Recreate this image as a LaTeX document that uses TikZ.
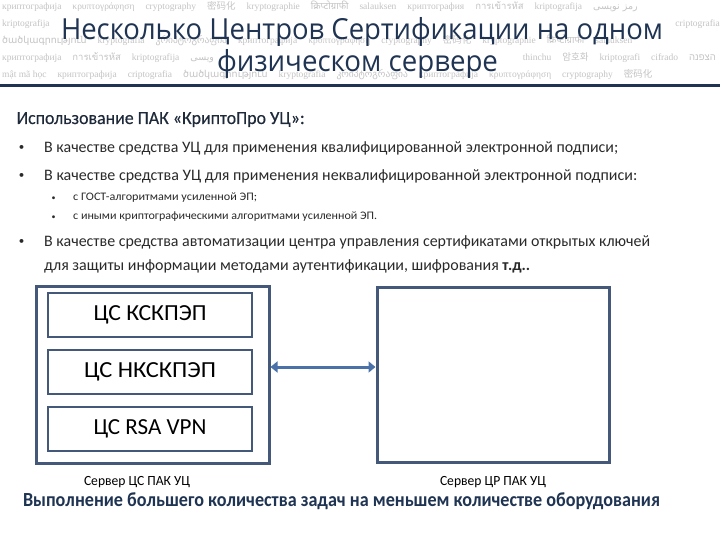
\documentclass[tikz,border=0pt]{standalone}
\usepackage{fontspec}
\usepackage{graphicx}
\usetikzlibrary{arrows.meta}
\setmainfont{Carlito}
\newfontfamily\headfont[FakeBold=0.3]{Carlito}
\newfontfamily\titlefont{Open Sans}
\newfontfamily\wmfont{Liberation Serif}
\newfontfamily\cjkfont{Noto Sans CJK SC}
\newfontfamily\kofont{Noto Sans CJK KR}
\newfontfamily\devfont[Script=Devanagari]{Noto Sans}
\newfontfamily\thaifont[Script=Thai]{Loma}
\newfontfamily\arfont[Script=Arabic]{DejaVu Sans}
\newfontfamily\dvfont{DejaVu Sans}
\newfontfamily\hefont[Script=Hebrew]{Liberation Sans}
\TeXXeTstate=1
\definecolor{titlenavy}{HTML}{1F3352}
\definecolor{headcol}{HTML}{1E2A3A}
\definecolor{bodycol}{HTML}{2A2A2A}
\definecolor{boxcol}{HTML}{44597A}
\definecolor{arrcol}{HTML}{4A72A8}
\definecolor{wmgray}{HTML}{C4C4C4}
\newlength\fitlen
\newcommand\fitto[2]{\settowidth\fitlen{#2}\scalebox{\fpeval{(#1)/\fitlen}}[1]{#2}}
\newcommand\ws{\hspace{11pt}}
\newcommand\wmAr{{\arfont\beginR رمز نویسی\endR}}
\newcommand\wmHe{{\hefont\beginR הצפנה\endR}}
\tikzset{
  wm/.style={anchor=base west, inner sep=0pt, text=wmgray, font=\wmfont\fontsize{9.5}{11}\selectfont},
  wmr/.style={wm, anchor=base east},
  titletext/.style={anchor=base, inner sep=0pt, text=titlenavy, font=\titlefont\fontsize{29}{34}\selectfont},
  headtext/.style={anchor=base west, inner sep=0pt, text=headcol, font=\headfont\fontsize{18.5}{22}\selectfont},
  bodytext/.style={anchor=base west, inner sep=0pt, text=bodycol, font=\fontsize{16}{19}\selectfont},
  subtext/.style={anchor=base west, inner sep=0pt, text=bodycol, font=\fontsize{11.5}{14}\selectfont},
  bigdot/.style={anchor=base, inner sep=0pt, text=bodycol, font=\fontsize{11}{13}\selectfont},
  smalldot/.style={anchor=base, inner sep=0pt, text=bodycol, font=\fontsize{8}{10}\selectfont},
  outerbox/.style={draw=boxcol, line width=3pt, inner sep=0pt, fill=white},
  innerbox/.style={draw=boxcol, line width=2pt, inner sep=0pt, minimum width=204pt, minimum height=44pt, text=black, font=\fontsize{23}{27}\selectfont},
  srvlabel/.style={anchor=base, inner sep=0pt, text=black, font=\fontsize{14}{17}\selectfont},
  summary/.style={anchor=base, inner sep=0pt, text=titlenavy, font=\bfseries\fontsize{20}{24}\selectfont},
  link/.style={draw=arrcol, line width=3pt, {Triangle[length=7pt,width=11pt]}-{Triangle[length=7pt,width=11pt]}}
}
\begin{document}
\begin{tikzpicture}[x=1pt,y=-1pt]
\useasboundingbox (0,0) rectangle (720,540);
\fill[white] (0,0) rectangle (720,540);
% watermark band
\begin{scope}
\clip (0,0) rectangle (720,85);
\node[wm] (wm1) at (2,10) {криптографија\ws κρυπτογράφηση\ws cryptography\ws {\cjkfont 密码化}\ws kryptographie\ws {\devfont क्रिप्टोग्राफी}\ws salauksen\ws криптография\ws {\thaifont การเข้ารหัส}\ws kriptografija\ws \wmAr};
\node[wm] (wm2a) at (2,27) {kriptografija};
\node[wmr] (wm2b) at (720,27) {criptografia};
\node[wm] (wm3) at (2,44) {{\dvfont ծածկագրություն}\ws kryptografia\ws {\dvfont კრიპტოგრაფია}\ws криптографија\ws κρυπτογράφηση\ws cryptography\ws {\cjkfont 密码化}\ws kryptographie\ws {\devfont क्रिप्टोग्राफी}\ws salauksen};
\begin{scope}
\clip (0,50) rectangle (212,70);
\node[wm] (wm4a) at (2,61) {криптографија\ws {\thaifont การเข้ารหัส}\ws kriptografija\ws \wmAr};
\end{scope}
\node[wmr] (wm4b) at (716,61) {thinchu\ws {\kofont 암호화}\ws kriptografi\ws cifrado\ws \wmHe};
\node[wm] (wm5) at (2,78) {mật mã học\ws криптографија\ws criptografia\ws {\dvfont ծածկագրություն}\ws kryptografia\ws {\dvfont კრიპტოგრაფია}\ws криптографија\ws κρυπτογράφηση\ws cryptography\ws {\cjkfont 密码化}};
\end{scope}
\draw[titlenavy, line width=3pt] (0,86) -- (720,86);
% title
\node[titletext] (t1) at (362,40) {\fitto{602}{Несколько Центров Сертификации на одном}};
\node[titletext] (t2) at (357.5,72) {\fitto{281}{физическом сервере}};
% text
\node[headtext] (head) at (16.5,124) {\fitto{288}{Использование ПАК «КриптоПро УЦ»:}};
\node[bigdot] (d1) at (21.5,150.5) {•};
\node[bodytext] (b1) at (44,153) {\fitto{574}{В качестве средства УЦ для применения квалифицированной электронной подписи;}};
\node[bigdot] (d2) at (21.5,178.5) {•};
\node[bodytext] (b2) at (44,181) {\fitto{593}{В качестве средства УЦ для применения неквалифицированной электронной подписи:}};
\node[smalldot] (d3) at (53.5,201) {•};
\node[subtext] (s1) at (73,201) {\fitto{184}{с ГОСТ-алгоритмами усиленной ЭП;}};
\node[smalldot] (d4) at (53.5,219) {•};
\node[subtext] (s2) at (73,219) {\fitto{304}{с иными криптографическими алгоритмами усиленной ЭП.}};
\node[bigdot] (d5) at (21.5,244.5) {•};
\node[bodytext] (b3) at (44,247) {\fitto{606}{В качестве средства автоматизации центра управления сертификатами открытых ключей}};
\node[bodytext] (b3b) at (44,270) {\fitto{486}{для защиты информации методами аутентификации, шифрования \textbf{т.д..}}};
% servers
\node[outerbox, minimum width=233pt, minimum height=177pt] (srvCS) at (152.5,374.5) {};
\node[outerbox, minimum width=232pt, minimum height=175pt] (srvCR) at (493,374.5) {};
\node[innerbox] (cs1) at (150,315) {\fitto{113}{ЦС КСКПЭП}};
\node[innerbox] (cs2) at (150,372) {\fitto{132}{ЦС НКСКПЭП}};
\node[innerbox] (cs3) at (150,429) {\fitto{113}{ЦС RSA VPN}};
\coordinate (ay) at (0,367);
\draw[link] (srvCS.east |- ay) -- (srvCR.west |- ay);
\node[srvlabel] (lblCS) at (137,485) {\fitto{106}{Сервер ЦС ПАК УЦ}};
\node[srvlabel] (lblCR) at (493,485) {\fitto{106}{Сервер ЦР ПАК УЦ}};
\node[summary] (summ) at (341.5,506) {\fitto{637}{Выполнение большего количества задач на меньшем количестве оборудования}};
\end{tikzpicture}
\end{document}
